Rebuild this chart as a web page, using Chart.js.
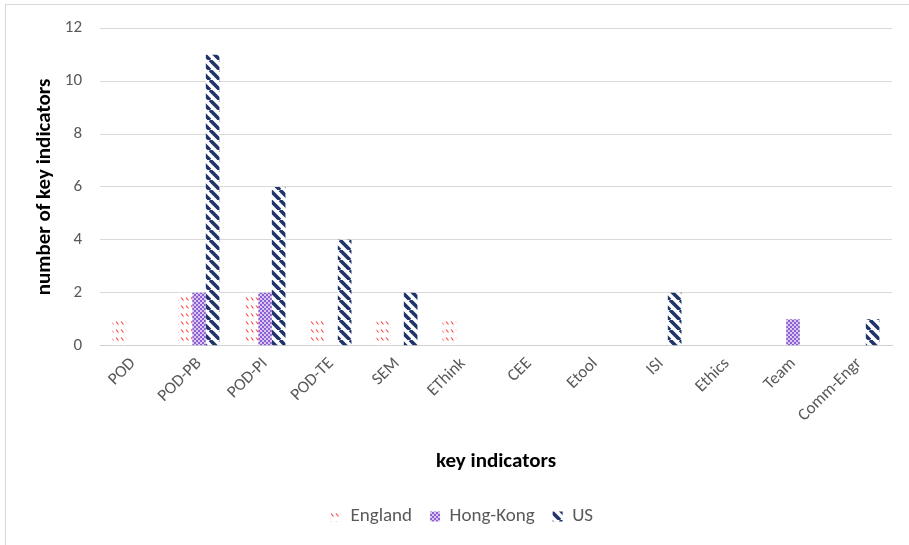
<!DOCTYPE html>
<html>
<head>
<meta charset="utf-8">
<script src="https://cdn.jsdelivr.net/npm/chart.js@4/dist/chart.umd.min.js"></script>
<style>
    html, body { margin: 0; padding: 0; background: #fff; }
    #wrap { position: absolute; left: 5px; top: 4px; width: 906px; height: 542px; border: 1px solid #d9d9d9; box-sizing: border-box; }
    #chart { position: absolute; left: -6px; top: -5px; }
</style>
</head>
<body>
<div id="wrap"><canvas id="chart" width="909" height="545"></canvas></div>
<script>
const categories = ["POD", "POD-PB", "POD-PI", "POD-TE", "SEM", "EThink", "CEE", "Etool", "ISI", "Ethics", "Team", "Comm-Engr"];
const england = [1, 2, 2, 1, 1, 1, 0, 0, 0, 0, 0, 0];
const hongKong = [0, 2, 2, 0, 0, 0, 0, 0, 0, 0, 1, 0];
const us = [0, 11, 6, 4, 2, 0, 0, 0, 2, 0, 0, 1];
const yTicks = [0, 2, 4, 6, 8, 10, 12];

const FONT = "Carlito, Calibri, Lato, 'Liberation Sans', sans-serif";

function makeTile(w, h, draw) {
    var c = document.createElement("canvas");
    c.width = w;
    c.height = h;
    var g = c.getContext("2d");
    g.fillStyle = "#fff";
    g.fillRect(0, 0, w, h);
    draw(g);
    return document.getElementById("chart").getContext("2d").createPattern(c, "repeat");
}

// sparse red dashed diagonals on white
var englandFill = makeTile(5, 8, function (g) {
    g.strokeStyle = "#ff3a3a";
    g.lineWidth = 1.1;
    g.beginPath();
    g.moveTo(1, 1.5); g.lineTo(3.5, 4.5);
    g.stroke();
});

// small purple checker
var hongKongFill = makeTile(4, 4, function (g) {
    g.fillStyle = "#8e5fcf";
    g.fillRect(0, 0, 2, 2);
    g.fillRect(2, 2, 2, 2);
    g.fillStyle = "#d9c8ef";
    g.fillRect(2, 0, 2, 2);
    g.fillRect(0, 2, 2, 2);
});

// thick navy downward diagonals
var usFill = makeTile(10, 10, function (g) {
    g.strokeStyle = "#1f3468";
    g.lineWidth = 3.6;
    g.beginPath();
    for (var k = -2; k <= 2; k++) {
        g.moveTo(k * 10, 0);
        g.lineTo(k * 10 + 10, 10);
    }
    g.stroke();
});

new Chart(document.getElementById("chart"), {
    type: "bar",
    data: {
        labels: categories,
        datasets: [
            { label: "England", data: england, backgroundColor: englandFill, borderWidth: 0 },
            { label: "Hong-Kong", data: hongKong, backgroundColor: hongKongFill, borderWidth: 0 },
            { label: "US", data: us, backgroundColor: usFill, borderWidth: 0 }
        ]
    },
    options: {
        responsive: false,
        animation: false,
        layout: { padding: { left: 32, right: 17, top: 20, bottom: 9 } },
        datasets: { bar: { categoryPercentage: 0.62, barPercentage: 1 } },
        scales: {
            x: {
                grid: { display: false },
                border: { color: "#d0d0d0", width: 1 },
                ticks: { color: "#595959", font: { family: FONT, size: 17 }, maxRotation: 45, minRotation: 45, padding: 0 },
                title: { display: true, text: "key indicators", color: "#000", font: { family: FONT, size: 21, weight: "bold" }, padding: { top: 23, bottom: 15 } }
            },
            y: {
                min: 0,
                max: 12,
                afterBuildTicks: function (axis) {
                    axis.ticks = yTicks.map(function (v) { return { value: v }; });
                },
                afterFit: function (axis) {
                    axis.width = 68;
                },
                grid: { color: "#d9d9d9", drawTicks: false },
                border: { display: false },
                ticks: { color: "#595959", font: { family: FONT, size: 17 }, padding: 18 },
                title: { display: true, text: "number of key indicators", color: "#000", font: { family: FONT, size: 21, weight: "bold" }, padding: { top: 0, bottom: 5 } }
            }
        },
        plugins: {
            legend: {
                position: "bottom",
                labels: { color: "#595959", font: { family: FONT, size: 19 }, boxWidth: 10, boxHeight: 10, padding: 18 }
            },
            tooltip: { enabled: false }
        }
    }
});
</script>
</body>
</html>
